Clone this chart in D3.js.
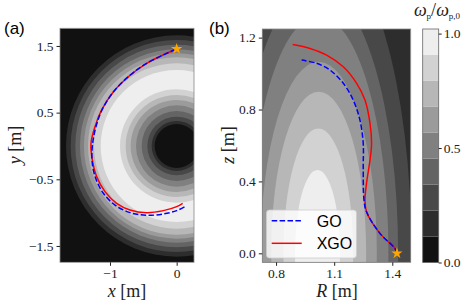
<!DOCTYPE html>
<html>
<head>
<meta charset="utf-8">
<script src="https://cdn.jsdelivr.net/npm/d3@7"></script>
<style>
body { margin: 0; background: #fff; }
.tick text { font-family: "Liberation Serif", "DejaVu Serif", serif; font-size: 13.5px; fill: #222; }
.tick line { stroke: #222; }
.domain { display: none; }
.lab { font-family: "Liberation Serif", serif; font-size: 18px; fill: #222; }
.sans { font-family: "Liberation Sans", Arial, sans-serif; fill: #000; }
</style>
</head>
<body>
<script>
var width = 463, height = 305;

// panel (a): ring boundaries (radius, m) and band level inside each ring, outer to inner
var ringRadius = [1.66, 1.59, 1.52, 1.45, 1.39, 1.33, 1.24, 1.14, 0.85, 0.765, 0.69, 0.61, 0.525, 0.44, 0.375, 0.33];
var ringLevel  = [1, 2, 3, 4, 5, 6, 7, 8, 7, 6, 5, 4, 3, 2, 1, 0];

// panel (b): nested contour half-ellipses (centre R, half width, height) and level inside
var ellLevel = [2, 3, 4, 5, 6, 7, 8];
var ellR0    = [1.02, 1.01, 1.02, 1.02, 1.02, 1.018, 1.014];
var ellA     = [0.48, 0.42, 0.36, 0.30, 0.245, 0.18, 0.116];
var ellB     = [1.73, 1.486, 1.32, 1.066, 0.899, 0.695, 0.463];

// trajectories, panel (a) in x-y
var goXY = [[-0.015,1.45],[-0.45,1.24],[-0.70,1.06],[-0.95,0.81],[-1.12,0.54],[-1.21,0.29],[-1.26,0.04],[-1.27,-0.21],[-1.22,-0.47],[-1.1,-0.71],[-0.92,-0.89],[-0.7,-1.0],[-0.45,-1.04],[-0.2,-1.02],[0,-0.97],[0.125,-0.91]];
var xgoXY = [[-0.015,1.45],[-0.45,1.24],[-0.70,1.06],[-0.95,0.81],[-1.125,0.54],[-1.225,0.29],[-1.285,0.04],[-1.265,-0.21],[-1.2,-0.46],[-1.075,-0.685],[-0.9,-0.86],[-0.70,-0.96],[-0.45,-1.0],[-0.2,-0.97],[0,-0.91],[0.09,-0.86]];
var startXY = [0, 1.455];

// trajectories, panel (b) in R-z
var goRZ = [[1.424,0.0],[1.413,0.028],[1.336,0.111],[1.267,0.231],[1.254,0.296],[1.25,0.48],[1.25,0.61],[1.233,0.741],[1.198,0.853],[1.147,0.946],[1.078,1.02],[1.01,1.057],[0.932,1.075]];
var xgoRZ = [[1.424,0.0],[1.413,0.028],[1.336,0.111],[1.267,0.231],[1.259,0.296],[1.267,0.39],[1.285,0.52],[1.293,0.61],[1.285,0.723],[1.259,0.853],[1.216,0.946],[1.147,1.038],[1.061,1.103],[0.975,1.14],[0.886,1.162]];
var startRZ = [1.424, 0.0];

var xTicksA = [-1, 0], yTicksA = [1.5, 0.5, -0.5, -1.5];
var rTicks = [0.8, 1.1, 1.4], zTicks = [0.0, 0.4, 0.8, 1.2];
var cbTicks = [0.0, 0.5, 1.0];
var nLevels = 9, cbMax = 1.02;

var gray = d3.scaleLinear().domain([0, nLevels - 1]).range(["#111111", "#eeeeee"]);
var minus = function (s) { return s.replace("-", "\u2212"); };

var svg = d3.select("body").append("svg")
	.attr("width", width).attr("height", height);

// ---------- panel (a)
var ax = d3.scaleLinear().domain([-1.75, 0.26]).range([60, 194]);
var ay = d3.scaleLinear().domain([-1.745, 1.765]).range([262.3, 28.3]);

svg.append("clipPath").attr("id", "clipA").append("rect")
	.attr("x", 60).attr("y", 28.3).attr("width", 134).attr("height", 234);

var ga = svg.append("g").attr("clip-path", "url(#clipA)");
ga.append("rect").attr("x", 60).attr("y", 28.3).attr("width", 134).attr("height", 234)
	.attr("fill", gray(0));
ga.selectAll("circle").data(ringRadius).enter().append("circle")
	.attr("cx", ax(0)).attr("cy", ay(0))
	.attr("r", function (d) { return ax(d) - ax(0); })
	.attr("fill", function (d, i) { return gray(ringLevel[i]); });

var lineA = d3.line().x(function (d) { return ax(d[0]); }).y(function (d) { return ay(d[1]); }).curve(d3.curveCatmullRom);
ga.append("path").attr("d", lineA(xgoXY)).attr("fill", "none").attr("stroke", "#ff0000").attr("stroke-width", 1.5);
ga.append("path").attr("d", lineA(goXY)).attr("fill", "none").attr("stroke", "#0000ff").attr("stroke-width", 1.5)
	.attr("stroke-dasharray", "5.5,2.4");
svg.append("path").attr("d", d3.symbol(d3.symbolStar, 40)())
	.attr("transform", "translate(" + ax(startXY[0]) + "," + ay(startXY[1]) + ")")
	.attr("fill", "#ffa500");

svg.append("rect").attr("x", 60).attr("y", 28.3).attr("width", 134).attr("height", 234)
	.attr("fill", "none").attr("stroke", "#888").attr("stroke-width", 0.8);

svg.append("g").attr("transform", "translate(0,262.3)")
	.call(d3.axisBottom(ax).tickValues(xTicksA).tickSize(3.5).tickPadding(3).tickFormat(function (d) { return minus(d3.format("d")(d)); }));
svg.append("g").attr("transform", "translate(60,0)")
	.call(d3.axisLeft(ay).tickValues(yTicksA).tickSize(3.5).tickPadding(3).tickFormat(function (d) { return minus(d3.format(".1f")(d)); }));

var xl = svg.append("text").attr("class", "lab").attr("x", 127).attr("y", 297).attr("text-anchor", "middle");
xl.append("tspan").attr("font-style", "italic").text("x");
xl.append("tspan").text(" [m]");
var yl = svg.append("text").attr("class", "lab").attr("transform", "translate(21,145) rotate(-90)").attr("text-anchor", "middle");
yl.append("tspan").attr("font-style", "italic").text("y");
yl.append("tspan").text(" [m]");

svg.append("text").attr("class", "sans").attr("x", 4).attr("y", 34).attr("font-size", 17).text("(a)");

// ---------- panel (b)
var bx = d3.scaleLinear().domain([0.729, 1.495]).range([262.3, 410.7]);
var by = d3.scaleLinear().domain([-0.05, 1.248]).range([262.3, 29]);

svg.append("clipPath").attr("id", "clipB").append("rect")
	.attr("x", 262.3).attr("y", 29).attr("width", 148.4).attr("height", 233.3);

var gb = svg.append("g").attr("clip-path", "url(#clipB)");
gb.append("rect").attr("x", 262.3).attr("y", 29).attr("width", 148.4).attr("height", 233.3)
	.attr("fill", gray(1));
gb.selectAll("ellipse").data(ellLevel).enter().append("ellipse")
	.attr("cx", function (d, i) { return bx(ellR0[i]); })
	.attr("cy", by(0))
	.attr("rx", function (d, i) { return bx(ellR0[i] + ellA[i]) - bx(ellR0[i]); })
	.attr("ry", function (d, i) { return by(0) - by(ellB[i]); })
	.attr("fill", function (d) { return gray(d); });

var lineB = d3.line().x(function (d) { return bx(d[0]); }).y(function (d) { return by(d[1]); }).curve(d3.curveCatmullRom);
gb.append("path").attr("d", lineB(xgoRZ)).attr("fill", "none").attr("stroke", "#ff0000").attr("stroke-width", 1.5);
gb.append("path").attr("d", lineB(goRZ)).attr("fill", "none").attr("stroke", "#0000ff").attr("stroke-width", 1.5)
	.attr("stroke-dasharray", "5.5,2.4");
svg.append("path").attr("d", d3.symbol(d3.symbolStar, 40)())
	.attr("transform", "translate(" + bx(startRZ[0]) + "," + by(startRZ[1]) + ")")
	.attr("fill", "#ffa500");

svg.append("rect").attr("x", 262.3).attr("y", 29).attr("width", 148.4).attr("height", 233.3)
	.attr("fill", "none").attr("stroke", "#888").attr("stroke-width", 0.8);

svg.append("g").attr("transform", "translate(0,262.3)")
	.call(d3.axisBottom(bx).tickValues(rTicks).tickSize(3.5).tickPadding(3).tickFormat(d3.format(".1f")));
svg.append("g").attr("transform", "translate(262.3,0)")
	.call(d3.axisLeft(by).tickValues(zTicks).tickSize(3.5).tickPadding(3).tickFormat(d3.format(".1f")));

var rl = svg.append("text").attr("class", "lab").attr("x", 337).attr("y", 297).attr("text-anchor", "middle");
rl.append("tspan").attr("font-style", "italic").text("R");
rl.append("tspan").text(" [m]");
var zl = svg.append("text").attr("class", "lab").attr("transform", "translate(234,145) rotate(-90)").attr("text-anchor", "middle");
zl.append("tspan").attr("font-style", "italic").text("z");
zl.append("tspan").text(" [m]");

svg.append("text").attr("class", "sans").attr("x", 209).attr("y", 34).attr("font-size", 17).text("(b)");

// legend
var leg = svg.append("g");
leg.append("rect").attr("x", 266.5).attr("y", 210).attr("width", 90).attr("height", 48).attr("rx", 3)
	.attr("fill", "#fff").attr("fill-opacity", 0.8).attr("stroke", "#ccc").attr("stroke-width", 0.8);
leg.append("line").attr("x1", 271.7).attr("x2", 301.7).attr("y1", 220.7).attr("y2", 220.7)
	.attr("stroke", "#0000ff").attr("stroke-width", 1.5).attr("stroke-dasharray", "5.5,2.4");
leg.append("line").attr("x1", 271.7).attr("x2", 301.7).attr("y1", 243.3).attr("y2", 243.3)
	.attr("stroke", "#ff0000").attr("stroke-width", 1.5);
leg.append("text").attr("class", "sans").attr("x", 316.7).attr("y", 226.5).attr("font-size", 16).text("GO");
leg.append("text").attr("class", "sans").attr("x", 316.7).attr("y", 249.2).attr("font-size", 16).text("XGO");

// ---------- colorbar
var cy = d3.scaleLinear().domain([0, cbMax]).range([262.5, 29]);
var bands = d3.range(nLevels);
svg.selectAll(".cb").data(bands).enter().append("rect").attr("class", "cb")
	.attr("x", 422.7).attr("width", 16)
	.attr("y", function (d) { return cy((d + 1) * cbMax / nLevels); })
	.attr("height", function (d) { return cy(d * cbMax / nLevels) - cy((d + 1) * cbMax / nLevels); })
	.attr("fill", function (d) { return gray(d); });
svg.append("rect").attr("x", 422.7).attr("y", 29).attr("width", 16).attr("height", 233.5)
	.attr("fill", "none").attr("stroke", "#666").attr("stroke-width", 0.8);
svg.append("g").attr("transform", "translate(438.7,0)")
	.call(d3.axisRight(cy).tickValues(cbTicks).tickSize(3).tickPadding(2).tickFormat(d3.format(".1f")));

var cl = svg.append("text").attr("class", "lab").attr("x", 437).attr("y", 16).attr("text-anchor", "middle").attr("font-size", 13);
cl.append("tspan").attr("font-style", "italic").text("\u03c9");
cl.append("tspan").attr("font-size", 9).attr("dy", 3).text("p");
cl.append("tspan").attr("dy", -3).text("/");
cl.append("tspan").attr("font-style", "italic").text("\u03c9");
cl.append("tspan").attr("font-size", 9).attr("dy", 3).text("p,0");
</script>
</body>
</html>
